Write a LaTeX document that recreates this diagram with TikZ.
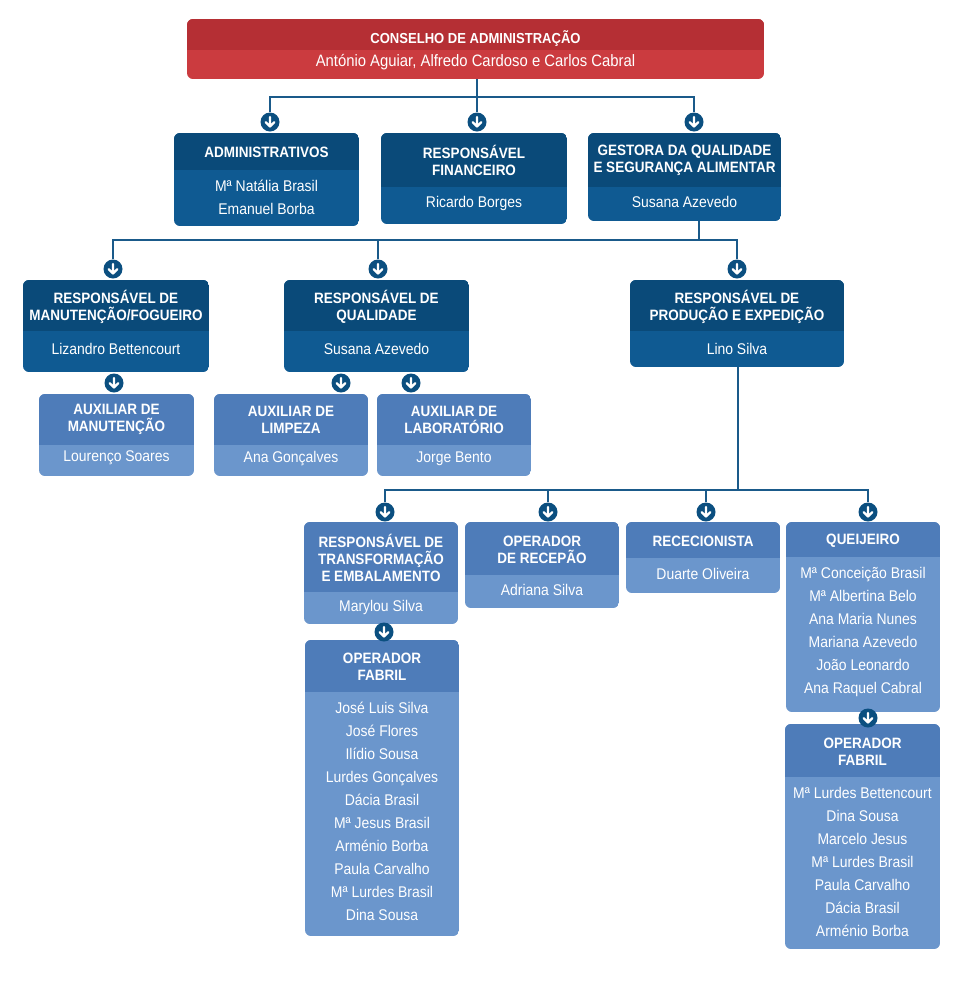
\documentclass[tikz,border=0pt]{standalone}
\usepackage{fontspec}
\setmainfont{Liberation Sans}[FakeStretch=0.9]
\definecolor{redhead}{HTML}{B52F34}
\definecolor{redbody}{HTML}{CB3B3F}
\definecolor{darkhead}{HTML}{0A4A79}
\definecolor{darkbody}{HTML}{0F5A92}
\definecolor{lighthead}{HTML}{4E7CB9}
\definecolor{lightbody}{HTML}{6B96CC}
\definecolor{linec}{HTML}{1A5A8A}
\definecolor{circ}{HTML}{0B4F80}
\tikzset{
  conn/.style={draw=linec, line width=1.3pt},
  ttl/.style={text=white, font=\fontsize{15}{17}\selectfont\bfseries, align=center, inner sep=0pt},
  nms/.style={text=white, font=\fontsize{15.5}{23}\selectfont, align=center, inner sep=0pt},
  anchorbox/.style={rectangle, inner sep=0pt, outer sep=0pt},
  downc/.style={circle, fill=circ, minimum size=19pt, inner sep=0pt,
    path picture={\draw[white, line width=2.4pt, line cap=round, line join=round]
      ([yshift=5pt]path picture bounding box.center) -- ([yshift=-4.5pt]path picture bounding box.center)
      ([xshift=-4.3pt,yshift=-0.2pt]path picture bounding box.center) -- ([yshift=-4.5pt]path picture bounding box.center)
      -- ([xshift=4.3pt,yshift=-0.2pt]path picture bounding box.center);}}
}
\def\getgeo#1,#2,#3,#4,#5,#6,#7\relax{\def\gxa{#1}\def\gya{#2}\def\gxb{#3}\def\gyb{#4}\def\gys{#5}\def\gty{#6}\def\gny{#7}}
\newcommand\obox[5]{%
  \getgeo#3\relax
  \begin{scope}
    \clip[rounded corners=6pt] (\gxa,\gya) rectangle (\gxb,\gyb);
    \fill[#2body] (\gxa,\gya) rectangle (\gxb,\gyb);
    \fill[#2head] (\gxa,\gya) rectangle (\gxb,\gys);
  \end{scope}
  \node[anchorbox, minimum width={(\gxb-\gxa)*1pt}, minimum height={(\gyb-\gya)*1pt}] (#1) at ({(\gxa+\gxb)/2},{(\gya+\gyb)/2}) {};
  \node[ttl] (#1-t) at ({(\gxa+\gxb)/2},\gty) {#4};
  \node[nms] (#1-n) at ({(\gxa+\gxb)/2},\gny) {#5};
}
\begin{document}
\begin{tikzpicture}[x=1pt,y=-1pt]
\useasboundingbox[fill=white] (0,0) rectangle (966,991);

% boxes
\obox{cons}{red}{187,19,764,79,50,39,62}{\fontsize{14.5}{17}\selectfont CONSELHO DE ADMINISTRAÇÃO}{\fontsize{16.5}{20}\selectfont António Aguiar, Alfredo Cardoso e Carlos Cabral}
\obox{adm}{dark}{174,133,359,226,170,152,197.5}{ADMINISTRATIVOS}{Mª Natália Brasil\\Emanuel Borba}
\obox{fin}{dark}{381,133,567,224,187,160.5,203}{RESPONSÁVEL\\FINANCEIRO}{Ricardo Borges}
\obox{ges}{dark}{588,133,781,221,187,160.5,202}{GESTORA DA QUALIDADE\\E SEGURANÇA ALIMENTAR}{Susana Azevedo}

\obox{man}{dark}{23,280,209,372,331,306.5,349}{RESPONSÁVEL DE\\MANUTENÇÃO/FOGUEIRO}{Lizandro Bettencourt}
\obox{qual}{dark}{284,280,469,372,331,306.5,349}{RESPONSÁVEL DE\\QUALIDADE}{Susana Azevedo}
\obox{prod}{dark}{630,280,844,367,331,306.5,349}{RESPONSÁVEL DE\\PRODUÇÃO E EXPEDIÇÃO}{Lino Silva}

\obox{auxman}{light}{39,394,194,476,445,419.5,458}{AUXILIAR DE\\MANUTENÇÃO}{Lourenço Soares}
\obox{auxlimp}{light}{214,394,368,476,445,419.5,459}{AUXILIAR DE\\LIMPEZA}{Ana Gonçalves}
\obox{auxlab}{light}{377,394,531,476,445,419.5,459}{AUXILIAR DE\\LABORATÓRIO}{Jorge Bento}

\obox{tr}{light}{304,522,458,624,592,558,607}{RESPONSÁVEL DE\\TRANSFORMAÇÃO\\E EMBALAMENTO}{Marylou Silva}
\obox{rec}{light}{465,522,619,608,575,549.5,590}{OPERADOR\\DE RECEPÃO}{Adriana Silva}
\obox{rc}{light}{626,522,780,593,558,541,574}{RECECIONISTA}{Duarte Oliveira}
\obox{qj}{light}{786,522,940,712,557,541,632}{QUEIJEIRO}{Mª Conceição Brasil\\Mª Albertina Belo\\Ana Maria Nunes\\Mariana Azevedo\\João Leonardo\\Ana Raquel Cabral}
\obox{fab1}{light}{305,640,459,936,692,666.5,811.5}{OPERADOR\\FABRIL}{José Luis Silva\\José Flores\\Ilídio Sousa\\Lurdes Gonçalves\\Dácia Brasil\\Mª Jesus Brasil\\Arménio Borba\\Paula Carvalho\\Mª Lurdes Brasil\\Dina Sousa}
\obox{fab2}{light}{785,724,940,949,777,751.5,862}{OPERADOR\\FABRIL}{Mª Lurdes Bettencourt\\Dina Sousa\\Marcelo Jesus\\Mª Lurdes Brasil\\Paula Carvalho\\Dácia Brasil\\Arménio Borba}

% junctions
\coordinate (j1) at (477,97);
\coordinate (j2) at (699,240);
\coordinate (j3) at (738,490);

% connectors
\node[downc] (c-adm) at (270,122) {};
\node[downc] (c-fin) at (477,122) {};
\node[downc] (c-ges) at (694,122) {};
\draw[conn] (c-adm.north) |- (j1) -| (c-ges.north);
\draw[conn] (cons.south -| j1) -- (c-fin.north);

\node[downc] (c-man) at (113,269) {};
\node[downc] (c-qual) at (378,269) {};
\node[downc] (c-prod) at (737,269) {};
\draw[conn] (ges.south -| j2) -- (j2);
\draw[conn] (c-man.north) |- (j2) -| (c-prod.north);
\draw[conn] (c-qual.north) -- (c-qual.north |- j2);

\node[downc] (c-auxman) at (114,383) {};
\node[downc] (c-auxlimp) at (341,383) {};
\node[downc] (c-auxlab) at (411,383) {};

\node[downc] (c-tr) at (385,512) {};
\node[downc] (c-rec) at (548,512) {};
\node[downc] (c-rc) at (706,512) {};
\node[downc] (c-qj) at (868,512) {};
\draw[conn] (prod.south -| j3) -- (j3);
\draw[conn] (c-tr.north) |- (j3) -| (c-qj.north);
\draw[conn] (c-rec.north) -- (c-rec.north |- j3);
\draw[conn] (c-rc.north) -- (c-rc.north |- j3);

\node[downc] (c-fab1) at (384,632) {};
\node[downc] (c-fab2) at (868,718) {};
\end{tikzpicture}
\end{document}
